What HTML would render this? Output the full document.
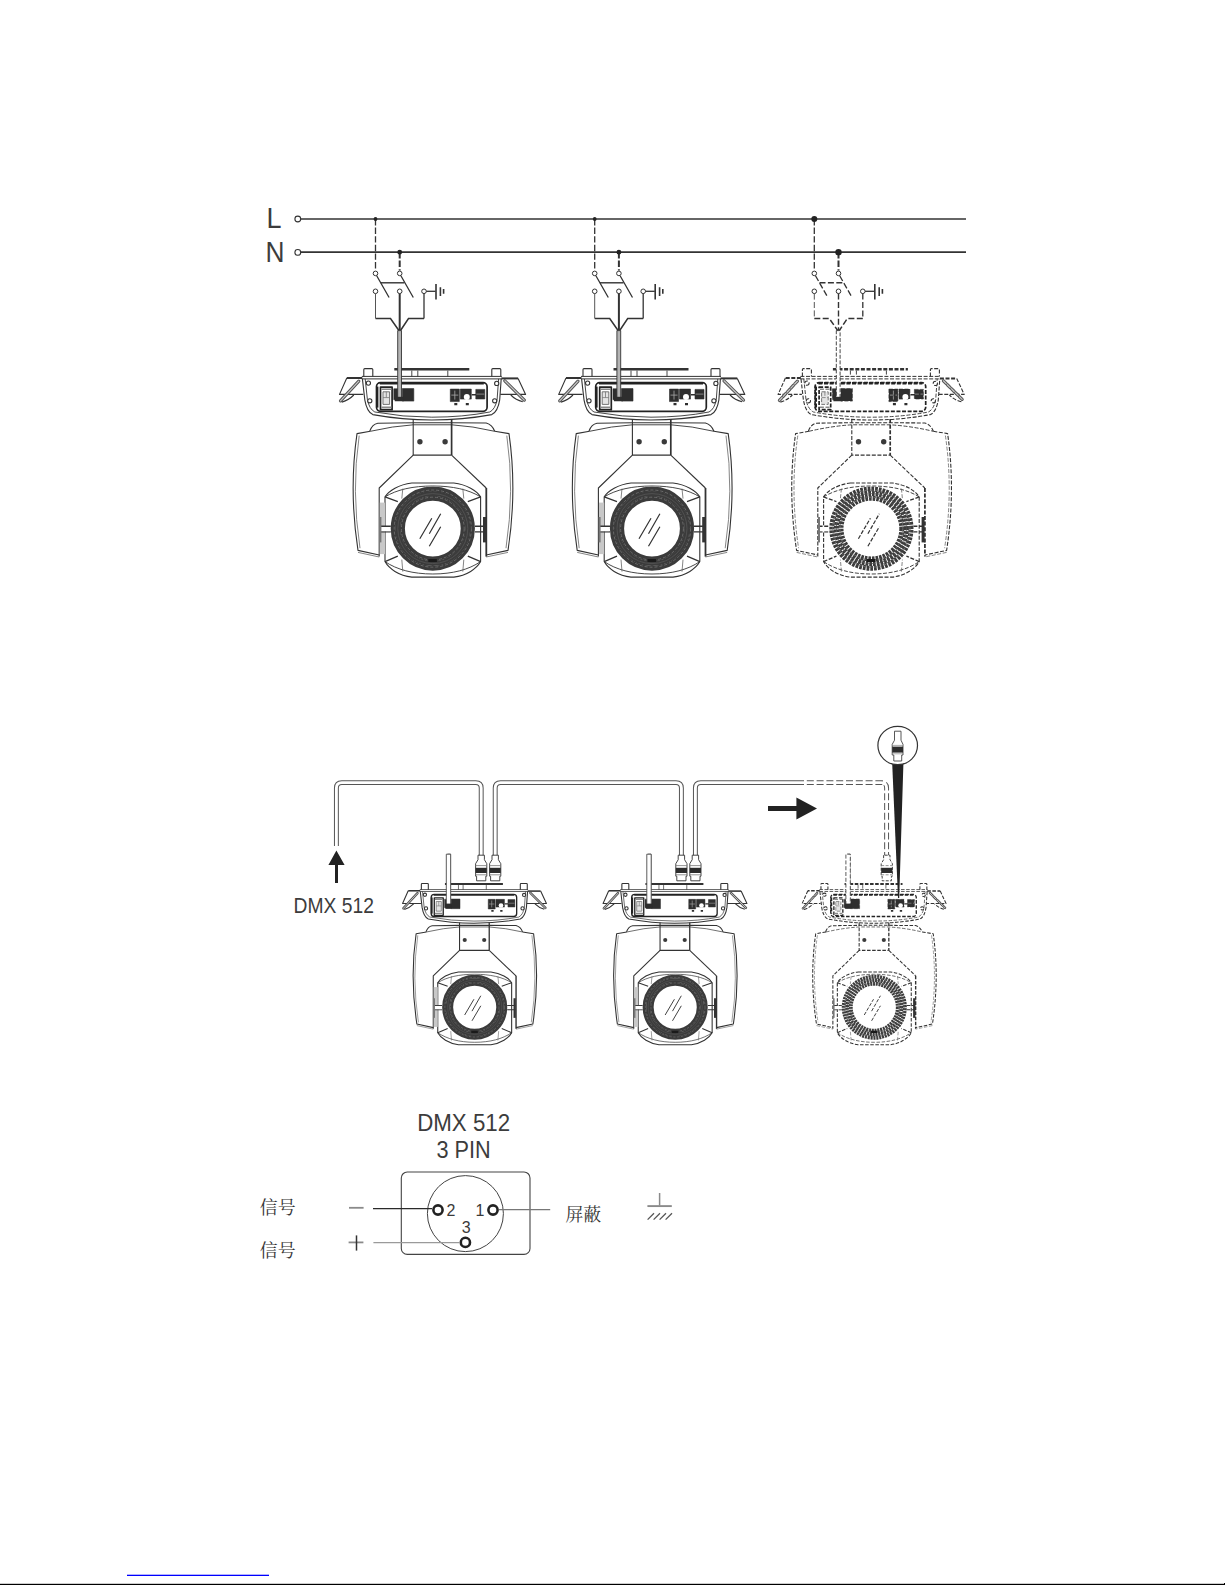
<!DOCTYPE html>
<html lang="zh"><head><meta charset="utf-8"><title>DMX 512</title>
<style>html,body{margin:0;padding:0;background:#fff}body{width:1225px;height:1585px;overflow:hidden}svg{display:block}</style>
</head><body>
<svg width="1225" height="1585" viewBox="0 0 1225 1585">
<defs>
<g id="fx" fill="none" stroke="#333" stroke-linejoin="round" style="stroke-width:var(--sw,1.1)">
  <!-- top bar -->
  <path d="M-38.5,-159.3 H36.5" stroke-width="2.5"/>
  <path d="M-21,-158 V-152 M-15,-158 V-152 M15,-158 V-152" stroke-width="0.9"/>
  <!-- posts -->
  <path d="M-69,-152 V-159 Q-69,-160 -68,-160 H-61 Q-60,-160 -60,-159 V-152"/>
  <path d="M59,-152 V-159 Q59,-160 60,-160 H67 Q68,-160 68,-159 V-152"/>
  <!-- top plate -->
  <path d="M-71,-152.2 H69 M-71,-149.7 H69" stroke-width="1"/>
  <!-- handles -->
  <path d="M-70.5,-150.6 H-86" stroke-width="2"/>
  <path d="M-86,-150.6 L-93.3,-134.2 H-69.5"/>
  <path d="M-74,-147.5 L-92.3,-127.8" stroke="#555" stroke-width="3.2" stroke-linecap="round"/>
  <path d="M-74,-147.5 L-92.3,-127.8" stroke="#c8c8c8" stroke-width="1.2" stroke-linecap="round"/>
  <path d="M-91,-126.5 Q-84,-128.5 -79,-133.6"/>
  <path d="M68.5,-150.2 H85.3" stroke-width="2"/>
  <path d="M85.3,-150.2 L92.8,-134.2 H67.5"/>
  <path d="M72,-147.8 L91.5,-128.5" stroke="#555" stroke-width="3.2" stroke-linecap="round"/>
  <path d="M72,-147.8 L91.5,-128.5" stroke="#c8c8c8" stroke-width="1.2" stroke-linecap="round"/>
  <path d="M90,-126.8 Q83,-128.5 78,-133.6"/>
  <!-- base body -->
  <path d="M-70.4,-149.7 L-68,-128.8 Q-66,-117 -60,-114 Q-30,-108.6 -1,-108.6 Q30,-108.6 59,-114 Q65,-117 66.9,-128.8 L68.4,-149.7"/>
  <path d="M-67.6,-149.7 L-65.4,-129 Q-63.5,-119.5 -58,-116.6 Q-30,-111.4 -1,-111.4 Q30,-111.4 57,-116.6 Q62.5,-119.5 64.3,-129 L65.8,-149.7" stroke-width="0.9"/>
  <circle cx="-64.4" cy="-145.5" r="2.1" fill="#fff"/>
  <circle cx="-63" cy="-127.8" r="2.1" fill="#fff"/>
  <circle cx="63.9" cy="-145.2" r="2.1" fill="#fff"/>
  <circle cx="61.9" cy="-127.8" r="2.1" fill="#fff"/>
  <!-- panel -->
  <rect x="-56.3" y="-146" width="110.6" height="28.7" rx="4" stroke="#222" stroke-width="1.7"/>
  <path d="M-53,-145.4 H51" stroke="#222" stroke-width="2.4"/>
  <path d="M-55.6,-142 V-121" stroke="#222" stroke-width="2.4"/>
  <!-- switch -->
  <rect x="-52.3" y="-141.5" width="11.6" height="22.6" stroke="#222" stroke-width="1.7"/>
  <rect x="-49.8" y="-136.8" width="6.6" height="12.6" stroke="#666" stroke-width="0.9" fill="#e4e4e4"/>
  <path d="M-51.5,-139.4 H-41.4 M-51.5,-121.4 H-41.4" stroke="#888" stroke-width="1.4"/>
  <path d="M-49.8,-131 H-43.2 M-46.5,-136.8 V-131" stroke="#777" stroke-width="0.8"/>
  <!-- left connector blob -->
  <path d="M-39,-139.8 h5 v11 h-5z M-30.5,-140 h11.5 v12.5 h-11.5z M-38,-131.5 h9 v4.2 h-9z" fill="#2e2e2e" stroke="none"/>
  <path d="M-39,-139.8 h5 v11 h-5z M-30.5,-140 h11.5 v12.5 h-11.5z" stroke="#2e2e2e" stroke-width="0.6"/>
  <!-- right connector blob -->
  <path d="M17.5,-139.5 h9 v12.5 h-9z M27.5,-139.5 h11 v10 h-11z M43,-139.2 h9 v9.6 h-9z M21.5,-125.6 h3 v2.2 h-3z M33,-125.6 h3 v2.2 h-3z M39,-134.6 h4 v1.6 h-4z" fill="#2e2e2e" stroke="none"/>
  <path d="M17.5,-139.5 h9 v12.5 h-9z M27.5,-139.5 h11 v10 h-11z M43,-139.2 h9 v9.6 h-9z" stroke="#2e2e2e" stroke-width="0.6"/>
  <circle cx="34" cy="-131.6" r="3" fill="#fff" stroke="none"/>
  <path d="M22,-138 V-129 M18.5,-133.5 H25.5" stroke="#aaa" stroke-width="0.8"/>
  <path d="M43.5,-134.5 H51.5" stroke="#999" stroke-width="0.8"/>
  <!-- power cable + plug on panel -->
  <rect x="-35.1" y="-198" width="3.8" height="68" stroke-width="0.9" style="fill:var(--cab,#b4b4b4)"/>
  <rect x="-36.8" y="-131.8" width="7.2" height="4" fill="#2e2e2e" stroke="none"/>
  <!-- neck -->
  <path d="M-19.6,-109.5 V-73.5 H18.8" />
  <path d="M18.8,-109.5 V-73.5" stroke-width="1.7"/>
  <circle cx="-12.9" cy="-86.9" r="2.7" fill="#3a3a3a" stroke="none"/>
  <circle cx="12.3" cy="-86.9" r="2.7" fill="#3a3a3a" stroke="none"/>
  <!-- head upper arc -->
  <path d="M-63,-97.6 Q-60.5,-104.4 -55,-105.4 L-19.6,-105.9 H18.8 L53.4,-105.6 Q59.4,-104 61.9,-97.4"/>
  <path d="M-62.5,-97.3 Q-40,-102.5 -19.6,-103.8 H18.8 Q40,-102.5 61.9,-97.3" stroke-width="0.9"/>
  <!-- head body -->
  <path d="M-62.5,-97.3 L-75.8,-95 Q-84,-38 -74.8,21.8 L-53.6,26.4"/>
  <path d="M-73.6,-93 Q-81.6,-38 -72.8,19.6" stroke-width="0.8" stroke="#666"/>
  <path d="M-74.8,23.8 L-53.6,28.4" stroke-width="0.8" stroke="#666"/>
  <path d="M61.9,-97.3 L76.2,-95 Q84.4,-38 75.2,21.8 L53.4,26.4"/>
  <path d="M74,-93 Q82,-38 73.2,19.6" stroke-width="0.8" stroke="#666"/>
  <path d="M75.2,23.8 L53.4,28.4" stroke-width="0.8" stroke="#666"/>
  <!-- yoke arms -->
  <path d="M-19.6,-73.5 L-53.6,-40.6 V28"/>
  <path d="M18.8,-73.5 L53.4,-40.6"/>
  <path d="M53.5,-40.6 V28" stroke-width="1.8"/>
  <!-- lens housing -->
  <path d="M-21,-45.6 H21 C34,-44 44,-38 47.8,-31.7 V33 C44,40 34,47 21,48.5 H-21 C-34,47 -44,40 -47.8,33 V-31.7 C-44,-38 -34,-44 -21,-45.6 Z" fill="#fff"/>
  <path d="M-47.8,-31.7 C-36,-39 -20,-42.6 0,-42.6 C20,-42.6 36,-39 47.8,-31.7" stroke-width="0.9"/>
  <path d="M-47.8,33 C-36,41 -20,45.4 0,45.4 C20,45.4 36,41 47.8,33" stroke-width="0.9"/>
  <path d="M-47.8,-31.7 L-35,-27 M47.8,-31.7 L35,-27 M-47.8,33 L-35,27.5 M47.8,33 L35,27.5" stroke-width="1.3"/>
  <path d="M-30,-40 L-31,-30 M30,-40 L31,-30 M-30,43 L-31,31 M30,43 L31,31" stroke-width="0.8" stroke="#666"/>
  <rect x="-53" y="-26" width="5.2" height="51.5" stroke="none" style="fill:var(--gb,#c8c8c8)"/>
  <!-- pivots -->
  <path d="M-52.8,-2.3 H-42 M-52.8,3.3 H-42 M42,-2.3 H52.8 M42,3.3 H52.8" stroke-width="1.4"/>
  <rect x="-52" y="-1.6" width="9.4" height="4.2" fill="#fff" stroke="none"/>
  <rect x="50.2" y="-11.6" width="3" height="25.4" fill="#333" stroke="none"/>
  <rect x="-53.4" y="-11.6" width="2" height="25.4" fill="#777" stroke="none"/>
  <!-- lens ring -->
  <circle r="42" fill="#fff" stroke="none"/>
  <circle r="30.4" stroke="#3b3b3b" stroke-width="5" style="stroke-dasharray:var(--rd,none)"/>
  <circle r="35" stroke="#3b3b3b" stroke-width="5" stroke-dashoffset="1.2" style="stroke-dasharray:var(--rd,none)"/>
  <circle r="39.6" stroke="#3b3b3b" stroke-width="5" stroke-dashoffset="2.4" style="stroke-dasharray:var(--rd,none)"/>
  <circle r="38.6" stroke="#6a6a6a" stroke-width="1" stroke-dasharray="3 2"/>
  <circle r="31.4" stroke="#6a6a6a" stroke-width="1" stroke-dasharray="3 2"/>
  <circle r="35" stroke="#555" stroke-width="0.8"/>
  <rect x="-4.5" y="30.4" width="8.6" height="3" fill="#1a1a1a" stroke="none"/>
  <!-- glass -->
  <path d="M-13,10.1 L-1,-10.3 M-3.5,5.1 L7.9,-14.8 M-3.5,17.6 L7.9,-1.8" stroke-width="1.2"/>
</g>
</defs>
<rect width="1225" height="1585" fill="#fff"/>
<g font-family="'Liberation Sans', sans-serif" fill="#3c3c3c"><text x="266.6" y="227.6" font-size="29" textLength="15" lengthAdjust="spacingAndGlyphs">L</text><text x="265.6" y="262" font-size="28.6" textLength="19" lengthAdjust="spacingAndGlyphs">N</text></g>
<path d="M301,219 H966" stroke="#333" stroke-width="1.4"/>
<path d="M301,252.2 H966" stroke="#333" stroke-width="1.8"/>
<circle cx="297.8" cy="219" r="2.9" fill="#fff" stroke="#333" stroke-width="1.1"/>
<circle cx="297.8" cy="252.4" r="2.9" fill="#fff" stroke="#333" stroke-width="1.1"/>
<g fill="none" stroke="#333" stroke-width="1.2">
<path d="M375.5,219 V270.6" stroke-dasharray="6.4 2.2" stroke-width="1.3"/>
<path d="M399.7,252 V270.6" stroke-dasharray="6.4 2.2" stroke-width="2"/>
<circle cx="375.5" cy="219" r="1.9" fill="#222" stroke="none"/>
<circle cx="399.7" cy="252.2" r="2.4" fill="#222" stroke="none"/>
<path d="M376.7,275.8 L389.1,297.5 M400.9,275.8 L413.3,297.5" stroke-width="1.3"/>
<path d="M380.7,282.8 H404.3" stroke-width="1.4"/>
<circle cx="375.5" cy="273.4" r="2.3" fill="#fff" stroke-width="1"/>
<circle cx="399.7" cy="273.4" r="2.3" fill="#fff" stroke-width="1"/>
<circle cx="375.5" cy="291.3" r="2.3" fill="#fff" stroke-width="1"/>
<circle cx="399.7" cy="291.3" r="2.3" fill="#fff" stroke-width="1"/>
<circle cx="424.0" cy="291.3" r="2.3" fill="#fff" stroke-width="1"/>
<path d="M426.3,291.3 H435.6" stroke-width="1.3"/>
<path d="M436.0,284 V299.5 M440.4,287.2 V295.9 M443.6,288.9 V293.8" stroke-width="1.6"/>
<path d="M375.5,293.6 V318.4" stroke-width="1" stroke="#555"/>
<path d="M399.7,293.6 V330.5" stroke-width="2"/>
<path d="M424.0,293.6 V318.4" stroke-width="1.3"/>
<path d="M375.5,318.5 H390.5 L398.9,330.5 M424.0,318.5 H408.5 L400.5,330.5" stroke-width="1.5"/>
</g>

<g fill="none" stroke="#333" stroke-width="1.2">
<path d="M594.7,219 V270.6" stroke-dasharray="6.4 2.2" stroke-width="1.3"/>
<path d="M618.9000000000001,252 V270.6" stroke-dasharray="6.4 2.2" stroke-width="2"/>
<circle cx="594.7" cy="219" r="1.9" fill="#222" stroke="none"/>
<circle cx="618.9000000000001" cy="252.2" r="2.4" fill="#222" stroke="none"/>
<path d="M595.9000000000001,275.8 L608.3000000000001,297.5 M620.1000000000001,275.8 L632.5000000000001,297.5" stroke-width="1.3"/>
<path d="M599.9000000000001,282.8 H623.5000000000001" stroke-width="1.4"/>
<circle cx="594.7" cy="273.4" r="2.3" fill="#fff" stroke-width="1"/>
<circle cx="618.9000000000001" cy="273.4" r="2.3" fill="#fff" stroke-width="1"/>
<circle cx="594.7" cy="291.3" r="2.3" fill="#fff" stroke-width="1"/>
<circle cx="618.9000000000001" cy="291.3" r="2.3" fill="#fff" stroke-width="1"/>
<circle cx="643.2" cy="291.3" r="2.3" fill="#fff" stroke-width="1"/>
<path d="M645.5,291.3 H654.8000000000001" stroke-width="1.3"/>
<path d="M655.2,284 V299.5 M659.6,287.2 V295.9 M662.8000000000001,288.9 V293.8" stroke-width="1.6"/>
<path d="M594.7,293.6 V318.4" stroke-width="1" stroke="#555"/>
<path d="M618.9000000000001,293.6 V330.5" stroke-width="2"/>
<path d="M643.2,293.6 V318.4" stroke-width="1.3"/>
<path d="M594.7,318.5 H609.7 L618.1000000000001,330.5 M643.2,318.5 H627.7 L619.7,330.5" stroke-width="1.5"/>
</g>

<g fill="none" stroke="#333" stroke-width="1.2">
<path d="M814.3,219 V270.6" stroke-dasharray="6.4 2.2" stroke-width="1.3"/>
<path d="M838.5,252 V270.6" stroke-dasharray="6.4 2.2" stroke-width="2"/>
<circle cx="814.3" cy="219" r="3.0" fill="#222" stroke="none"/>
<circle cx="838.5" cy="252.2" r="3.2" fill="#222" stroke="none"/>
<path d="M815.5,275.8 L827.9,297.5 M839.7,275.8 L852.1,297.5" stroke-width="1.3" stroke-dasharray="6 2.4"/>
<path d="M819.5,282.8 H843.1" stroke-width="1.4" stroke-dasharray="6 2.4"/>
<circle cx="814.3" cy="273.4" r="2.3" fill="#fff" stroke-width="1"/>
<circle cx="838.5" cy="273.4" r="2.3" fill="#fff" stroke-width="1"/>
<circle cx="814.3" cy="291.3" r="2.3" fill="#fff" stroke-width="1"/>
<circle cx="838.5" cy="291.3" r="2.3" fill="#fff" stroke-width="1"/>
<circle cx="862.8" cy="291.3" r="2.3" fill="#fff" stroke-width="1"/>
<path d="M865.0999999999999,291.3 H874.4" stroke-width="1.3"/>
<path d="M874.8,284 V299.5 M879.1999999999999,287.2 V295.9 M882.4,288.9 V293.8" stroke-width="1.6"/>
<path d="M814.3,293.6 V318.4" stroke-width="1" stroke="#555" stroke-dasharray="6 2.4"/>
<path d="M838.5,293.6 V330.5" stroke-width="1.4" stroke-dasharray="6 2.4"/>
<path d="M862.8,293.6 V318.4" stroke-width="1.3" stroke-dasharray="6 2.4"/>
<path d="M814.3,318.5 H829.3 L837.7,330.5 M862.8,318.5 H847.3 L839.3,330.5" stroke-width="1.5" stroke-dasharray="6 2.4"/>
</g>

<use href="#fx" transform="translate(432.8,528.6)"/>
<use href="#fx" transform="translate(652.0,528.6)"/>
<use href="#fx" transform="translate(871.4,528.6)" stroke-dasharray="4 1.6" style="--cab:#fff;--gb:transparent;--rd:2.7 1"/>
<path d="M336.4,846 V788 Q336.4,782.6 341.8,782.6 H475.8 Q481.2,782.6 481.2,788 V857" fill="none" stroke="#555" stroke-width="4.9"/>
<path d="M336.4,846 V788 Q336.4,782.6 341.8,782.6 H475.8 Q481.2,782.6 481.2,788 V857" fill="none" stroke="#fff" stroke-width="2.9"/>

<path d="M495.2,857 V788 Q495.2,782.6 500.6,782.6 H676 Q681.4,782.6 681.4,788 V857" fill="none" stroke="#555" stroke-width="4.9"/>
<path d="M495.2,857 V788 Q495.2,782.6 500.6,782.6 H676 Q681.4,782.6 681.4,788 V857" fill="none" stroke="#fff" stroke-width="2.9"/>

<path d="M695.4,857 V788 Q695.4,782.6 700.8,782.6 H797" fill="none" stroke="#555" stroke-width="4.9"/>
<path d="M695.4,857 V788 Q695.4,782.6 700.8,782.6 H797" fill="none" stroke="#fff" stroke-width="2.9"/>

<path d="M797,782.6 H881.2 Q886.6,782.6 886.6,788 V857" fill="none" stroke="#555" stroke-width="4.9" stroke-dasharray="7 2.8"/>
<path d="M797,782.6 H881.2 Q886.6,782.6 886.6,788 V857" fill="none" stroke="#fff" stroke-width="2.9"/>
<g fill="#fff" stroke="#333" stroke-width="0.9">
<path d="M478.0,855.2 V859.7 L475.59999999999997,863.7 V876.2 H476.59999999999997 V880.8000000000001 H485.8 V876.2 H486.8 V863.7 L484.4,859.7 V855.2 Z"/>
<rect x="475.59999999999997" y="867.8000000000001" width="11.2" height="5.2" fill="#2c2c2c" stroke="none"/>
<path d="M475.59999999999997,865.6 H486.8 M475.59999999999997,874.8000000000001 H486.8" stroke="#777" stroke-width="0.8"/>
</g>

<g fill="#fff" stroke="#333" stroke-width="0.9">
<path d="M492.0,855.2 V859.7 L489.59999999999997,863.7 V876.2 H490.59999999999997 V880.8000000000001 H499.8 V876.2 H500.8 V863.7 L498.4,859.7 V855.2 Z"/>
<rect x="489.59999999999997" y="867.8000000000001" width="11.2" height="5.2" fill="#2c2c2c" stroke="none"/>
<path d="M489.59999999999997,865.6 H500.8 M489.59999999999997,874.8000000000001 H500.8" stroke="#777" stroke-width="0.8"/>
</g>

<g fill="#fff" stroke="#333" stroke-width="0.9">
<path d="M678.1999999999999,855.2 V859.7 L675.8,863.7 V876.2 H676.8 V880.8000000000001 H686.0 V876.2 H687.0 V863.7 L684.6,859.7 V855.2 Z"/>
<rect x="675.8" y="867.8000000000001" width="11.2" height="5.2" fill="#2c2c2c" stroke="none"/>
<path d="M675.8,865.6 H687.0 M675.8,874.8000000000001 H687.0" stroke="#777" stroke-width="0.8"/>
</g>

<g fill="#fff" stroke="#333" stroke-width="0.9">
<path d="M692.1999999999999,855.2 V859.7 L689.8,863.7 V876.2 H690.8 V880.8000000000001 H700.0 V876.2 H701.0 V863.7 L698.6,859.7 V855.2 Z"/>
<rect x="689.8" y="867.8000000000001" width="11.2" height="5.2" fill="#2c2c2c" stroke="none"/>
<path d="M689.8,865.6 H701.0 M689.8,874.8000000000001 H701.0" stroke="#777" stroke-width="0.8"/>
</g>

<g fill="#fff" stroke="#333" stroke-width="0.9" stroke-dasharray="3 1.4">
<path d="M883.5999999999999,855.2 V859.7 L881.1999999999999,863.7 V876.2 H882.1999999999999 V880.8000000000001 H891.4 V876.2 H892.4 V863.7 L890.0,859.7 V855.2 Z"/>
<rect x="881.1999999999999" y="867.8000000000001" width="11.2" height="5.2" fill="#2c2c2c" stroke="none"/>
<path d="M881.1999999999999,865.6 H892.4 M881.1999999999999,874.8000000000001 H892.4" stroke="#777" stroke-width="0.8"/>
</g>

<use href="#fx" transform="translate(474.7,1007.2) scale(0.773)" style="--sw:1.4"/>
<use href="#fx" transform="translate(675.2,1007.2) scale(0.773)" style="--sw:1.4"/>
<use href="#fx" transform="translate(874.3,1007.2) scale(0.773)" stroke-dasharray="4.6 2" style="--sw:1.35;--cab:#fff;--gb:transparent;--rd:2.7 1"/>
<path d="M446.3,905 V854.2 H450.7 V905" fill="#fff" stroke="#4a4a4a" stroke-width="0.9"/>
<rect x="445.1" y="903.6" width="6.8" height="3.6" fill="#2c2c2c"/>
<path d="M646.8000000000001,905 V854.2 H651.2 V905" fill="#fff" stroke="#4a4a4a" stroke-width="0.9"/>
<rect x="645.6" y="903.6" width="6.8" height="3.6" fill="#2c2c2c"/>
<path d="M845.9,905 V854.2 H850.3 V905" fill="#fff" stroke="#4a4a4a" stroke-width="0.9" stroke-dasharray="4 1.8"/>
<rect x="844.6999999999999" y="903.6" width="6.8" height="3.6" fill="#2c2c2c"/>
<path d="M336.4,850.4 L344.6,865 H338 V883 H335 V865 H328.4 Z" fill="#222"/>
<path d="M768,806 H796.4 V797.4 L817,808.4 L796.4,819.6 V811 H768 Z" fill="#222"/>
<text x="293.6" y="912.8" font-family="'Liberation Sans', sans-serif" font-size="22.8" fill="#3c3c3c" textLength="80.4" lengthAdjust="spacingAndGlyphs">DMX 512</text>
<path d="M892.2,763.5 H903.4 L899.2,898 H898 Z" fill="#222"/>
<ellipse cx="897.7" cy="745.5" rx="19.8" ry="19.2" fill="#fff" stroke="#333" stroke-width="1.2"/>
<g fill="#fff" stroke="#444" stroke-width="0.9"><path d="M894.5,731.2 V740.2 L892.2,744.4 V755 H893.8 V761 H901.7 V755 H903 V744.4 L901,740.2 V731.2 Z"/><rect x="892.2" y="746.6" width="10.8" height="6" fill="#2c2c2c" stroke="none"/><path d="M892.2,745.4 H903 M892.2,753.8 H903" stroke="#888" stroke-width="0.7"/></g>
<g font-family="'Liberation Sans', sans-serif" fill="#3c3c3c" font-size="24"><text x="417.2" y="1131" textLength="92.9" lengthAdjust="spacingAndGlyphs">DMX 512</text><text x="436.4" y="1157.6" textLength="54.2" lengthAdjust="spacingAndGlyphs">3 PIN</text></g>
<rect x="401.3" y="1172" width="128.7" height="82.4" rx="6" fill="none" stroke="#444" stroke-width="1.1"/>
<circle cx="465.4" cy="1213.6" r="38" fill="none" stroke="#444" stroke-width="1"/>
<path d="M373,1208.6 H432" stroke="#2a2a2a" stroke-width="1.3"/>
<path d="M499,1209.6 H550.2" stroke="#777" stroke-width="1.2"/>
<path d="M373.4,1242.6 H459" stroke="#9a9a9a" stroke-width="1.4"/>
<circle cx="438" cy="1210" r="4.6" fill="#fff" stroke="#222" stroke-width="2.6"/>
<circle cx="493" cy="1210" r="4.6" fill="#fff" stroke="#222" stroke-width="2.6"/>
<circle cx="465.4" cy="1242.4" r="4.6" fill="#fff" stroke="#222" stroke-width="2.6"/>
<g font-family="'Liberation Sans', sans-serif" fill="#3a3a3a" font-size="16"><text x="446.6" y="1216">2</text><text x="475.6" y="1216">1</text><text x="461.8" y="1233.2">3</text></g>
<g font-family="'Liberation Serif', 'Noto Serif CJK SC', serif" fill="#333" font-size="17.9"><text x="259.8" y="1214.4">信号</text><text x="259.8" y="1256.8">信号</text><text x="565.4" y="1220.8">屏蔽</text></g>
<path d="M349,1207.8 H363.6" stroke="#8a8a8a" stroke-width="1.8"/>
<path d="M348.6,1242.4 H363.4" stroke="#8a8a8a" stroke-width="1.8"/>
<path d="M356.5,1235.4 V1250.6" stroke="#333" stroke-width="1.5"/>
<path d="M659.6,1193 V1205.6" stroke="#8a8a8a" stroke-width="1.5"/>
<path d="M647.4,1206.1 H671.8" stroke="#8a8a8a" stroke-width="1.9"/>
<path d="M647.6,1219.6 L654,1213.2 M653.6,1219.6 L660,1213.2 M659.6,1219.6 L666,1213.2 M665.6,1219.6 L672,1213.2" stroke="#555" stroke-width="1.3"/>
<rect x="127" y="1574.7" width="142" height="1.3" fill="#0000ff"/>
<rect x="0" y="1583.8" width="1225" height="1.2" fill="#000"/><rect x="1224" y="1583" width="1" height="2" fill="#000"/>
</svg>
</body></html>
